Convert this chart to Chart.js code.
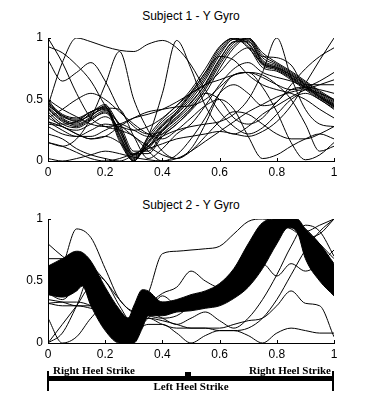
<!DOCTYPE html>
<html lang="en">
<head>
<meta charset="UTF-8">
<script src="https://cdn.jsdelivr.net/npm/chart.js"></script>
<title>Y Gyro</title>
<style>
  body { margin: 0; background: #fff; width: 369px; height: 394px; position: relative; overflow: hidden; }
  canvas { position: absolute; left: 0; }
  .title { position: absolute; left: 48px; width: 286px; text-align: center; font: 12px "Liberation Sans", Arial, sans-serif; color: #000; }
  .blk { position: absolute; background: #000; }
  .lab { position: absolute; font: bold 11px "Liberation Serif", "Times New Roman", serif; color: #000; white-space: nowrap; line-height: 11px; }
</style>
</head>
<body>
<div class="title" style="top:9px">Subject 1 - Y Gyro</div>
<canvas id="chart1" width="369" height="190" style="top:0"></canvas>
<div class="title" style="top:198px">Subject 2 - Y Gyro</div>
<canvas id="chart2" width="369" height="175" style="top:190px"></canvas>

<div class="blk" style="left:47px;top:376px;width:287px;height:5px"></div>
<div class="blk" style="left:47px;top:371px;width:2px;height:20px"></div>
<div class="blk" style="left:332px;top:371px;width:2px;height:20px"></div>
<div class="blk" style="left:185px;top:372px;width:6px;height:4px"></div>
<div class="lab" style="left:53px;top:365px">Right Heel Strike</div>
<div class="lab" style="right:38px;top:365px">Right Heel Strike</div>
<div class="lab" style="left:91px;width:200px;text-align:center;top:381px">Left Heel Strike</div>

<script>
// normalised gait cycle, sampled every 0.05
const X = [0, 0.05, 0.1, 0.15, 0.2, 0.25, 0.3, 0.35, 0.4, 0.45, 0.5,
           0.55, 0.6, 0.65, 0.7, 0.75, 0.8, 0.85, 0.9, 0.95, 1];
const xTicks = [0, 0.2, 0.4, 0.6, 0.8, 1];
const yTicks = [0, 0.5, 1];

// Subject 1: main bundle of strides
const s1Bundle = [
  [0.45,0.37,0.32,0.38,0.42,0.22,0.02,0.14,0.28,0.38,0.50,0.66,0.86,0.99,0.98,0.80,0.76,0.69,0.61,0.53,0.46],
  [0.43,0.33,0.30,0.36,0.45,0.28,0.05,0.10,0.24,0.34,0.45,0.60,0.80,0.96,1.00,0.84,0.78,0.71,0.63,0.55,0.48],
  [0.48,0.38,0.35,0.40,0.44,0.18,0.00,0.16,0.30,0.40,0.54,0.70,0.90,1.00,0.95,0.78,0.74,0.67,0.59,0.51,0.44],
  [0.40,0.30,0.27,0.33,0.40,0.25,0.03,0.12,0.26,0.36,0.47,0.63,0.83,0.97,0.99,0.82,0.77,0.70,0.62,0.54,0.47],
  [0.50,0.35,0.31,0.39,0.46,0.20,0.00,0.18,0.32,0.42,0.56,0.72,0.92,1.00,0.93,0.76,0.73,0.66,0.58,0.50,0.43],
  [0.44,0.34,0.29,0.35,0.41,0.30,0.08,0.08,0.22,0.32,0.43,0.58,0.78,0.94,1.00,0.86,0.79,0.72,0.64,0.56,0.49],
  [0.38,0.28,0.25,0.30,0.36,0.26,0.06,0.06,0.20,0.30,0.41,0.55,0.75,0.92,1.00,0.88,0.80,0.73,0.65,0.57,0.50],
  [0.46,0.36,0.33,0.37,0.43,0.16,0.00,0.20,0.34,0.45,0.58,0.75,0.93,1.00,0.92,0.79,0.75,0.68,0.60,0.52,0.45],
  [0.42,0.32,0.28,0.34,0.39,0.24,0.04,0.11,0.25,0.35,0.48,0.62,0.82,0.97,0.97,0.81,0.76,0.70,0.62,0.53,0.46],
  [0.47,0.37,0.34,0.40,0.44,0.21,0.01,0.15,0.29,0.39,0.52,0.68,0.88,0.99,0.96,0.79,0.75,0.68,0.60,0.52,0.45]
];
// Subject 1: odd strides
const s1Odd = [
  [0.45,0.80,1.00,0.97,0.93,0.90,0.89,0.95,0.98,0.92,0.78,0.58,0.40,0.28,0.22,0.27,0.38,0.50,0.55,0.50,0.42],
  [1.00,0.80,0.55,0.35,0.28,0.25,0.20,0.08,0.00,0.05,0.18,0.35,0.55,0.62,0.55,0.45,0.48,0.62,0.75,0.85,0.92],
  [0.93,0.88,0.78,0.65,0.45,0.30,0.20,0.12,0.05,0.02,0.08,0.20,0.32,0.40,0.38,0.30,0.22,0.18,0.18,0.22,0.28],
  [0.15,0.12,0.18,0.35,0.62,0.89,0.50,0.25,0.08,0.02,0.10,0.30,0.55,0.70,0.72,0.68,0.62,0.58,0.60,0.65,0.72],
  [0.32,0.28,0.22,0.18,0.20,0.15,0.05,0.20,0.55,0.98,0.75,0.45,0.28,0.22,0.28,0.38,0.45,0.52,0.58,0.62,0.66],
  [0.22,0.18,0.10,0.05,0.02,0.00,0.05,0.12,0.20,0.25,0.28,0.30,0.32,0.38,0.50,0.72,1.00,0.68,0.42,0.30,0.28],
  [0.15,0.12,0.07,0.02,0.00,0.02,0.06,0.10,0.14,0.18,0.20,0.22,0.24,0.22,0.20,0.24,0.32,0.45,0.63,0.82,1.00],
  [0.30,0.28,0.22,0.18,0.20,0.28,0.35,0.40,0.42,0.44,0.45,0.50,0.60,0.70,0.72,0.70,0.62,0.50,0.30,0.08,0.12],
  [0.35,0.42,0.50,0.55,0.50,0.40,0.30,0.22,0.18,0.25,0.35,0.45,0.50,0.42,0.20,0.02,0.05,0.12,0.18,0.22,0.18],
  [0.28,0.22,0.20,0.25,0.30,0.28,0.25,0.28,0.35,0.45,0.55,0.62,0.66,0.70,0.72,0.60,0.40,0.15,0.01,0.05,0.15],
  [0.50,0.42,0.36,0.30,0.28,0.30,0.35,0.38,0.42,0.48,0.55,0.62,0.72,0.85,0.92,0.85,0.84,0.78,0.62,0.62,0.62],
  [0.02,0.00,0.02,0.05,0.08,0.06,0.03,0.01,0.00,0.02,0.08,0.16,0.24,0.32,0.40,0.46,0.52,0.56,0.58,0.55,0.50],
  [0.32,0.25,0.20,0.20,0.25,0.30,0.25,0.20,0.22,0.30,0.42,0.55,0.50,0.35,0.30,0.35,0.48,0.58,0.60,0.58,0.55],
  [0.82,0.65,0.72,0.80,0.65,0.42,0.28,0.22,0.25,0.40,0.55,0.72,0.85,0.82,0.70,0.62,0.58,0.55,0.50,0.42,0.35],
  [0.35,0.30,0.32,0.40,0.43,0.42,0.20,0.02,0.10,0.22,0.30,0.45,0.62,0.75,0.80,0.72,0.68,0.65,0.60,0.52,0.44]
];

// Subject 2: envelope of the dense stride bundle
const bandX     = [0, 0.05, 0.1, 0.12, 0.15, 0.2, 0.25, 0.28, 0.3, 0.33, 0.35, 0.4, 0.45, 0.5, 0.55, 0.6, 0.65, 0.7, 0.75, 0.8, 0.84, 0.87, 0.9, 0.95, 1];
const bandUpper = [0.62,0.68,0.74,0.73,0.66,0.45,0.27,0.20,0.30,0.43,0.42,0.33,0.35,0.39,0.42,0.48,0.60,0.80,0.97,1.00,1.00,1.00,0.92,0.80,0.64];
const bandLower = [0.39,0.37,0.42,0.46,0.30,0.10,0.00,0.00,0.00,0.12,0.22,0.22,0.25,0.26,0.28,0.30,0.36,0.45,0.60,0.80,0.93,0.90,0.68,0.50,0.38];
// Subject 2: odd strides
const s2Odd = [
  [0.50,0.62,0.92,0.85,0.60,0.35,0.25,0.22,0.20,0.22,0.30,0.38,0.45,0.55,0.70,0.88,0.98,0.95,0.80,0.65,0.55],
  [0.80,0.70,0.62,0.55,0.40,0.20,0.10,0.20,0.30,0.28,0.30,0.33,0.40,0.50,0.65,0.85,0.98,0.95,0.85,0.72,0.60],
  [0.55,0.60,0.65,0.62,0.50,0.35,0.25,0.40,0.72,0.74,0.75,0.76,0.78,0.88,0.98,1.00,0.98,0.95,0.90,0.95,1.00],
  [0.35,0.33,0.30,0.30,0.20,0.10,0.12,0.30,0.40,0.45,0.58,0.50,0.45,0.55,0.68,0.82,0.94,0.98,0.92,0.80,0.68],
  [0.20,0.00,0.05,0.20,0.30,0.20,0.10,0.15,0.15,0.08,0.00,0.06,0.10,0.10,0.12,0.20,0.35,0.55,0.75,0.90,1.00],
  [0.32,0.33,0.33,0.30,0.22,0.15,0.15,0.20,0.15,0.12,0.12,0.12,0.10,0.10,0.06,0.00,0.08,0.12,0.10,0.08,0.08],
  [0.00,0.15,0.30,0.45,0.35,0.25,0.15,0.20,0.18,0.15,0.12,0.12,0.12,0.15,0.18,0.20,0.30,0.42,0.32,0.30,0.05],
  [0.68,0.68,0.60,0.50,0.35,0.20,0.20,0.30,0.32,0.30,0.30,0.32,0.36,0.42,0.55,0.64,0.54,0.64,0.58,0.64,0.75],
  [0.50,0.55,0.60,0.55,0.40,0.25,0.15,0.30,0.33,0.30,0.32,0.35,0.40,0.48,0.62,0.82,0.95,0.92,0.85,0.88,1.00],
  [0.32,0.30,0.30,0.28,0.25,0.20,0.20,0.25,0.28,0.28,0.30,0.30,0.32,0.38,0.50,0.70,0.90,0.96,0.88,0.70,0.52],
  [0.00,0.08,0.30,0.55,0.50,0.30,0.15,0.25,0.38,0.30,0.28,0.30,0.34,0.40,0.52,0.72,0.90,0.98,0.90,0.70,0.48],
  [0.40,0.35,0.45,0.50,0.40,0.25,0.18,0.25,0.20,0.15,0.20,0.25,0.18,0.12,0.20,0.35,0.55,0.78,0.95,0.90,0.70]
];

function pts(xs, ys) {
  return xs.map((x, i) => ({ x: x, y: ys[i] }));
}

function line(ys, xs) {
  return {
    data: pts(xs || X, ys),
    borderColor: '#000',
    borderWidth: 1,
    pointRadius: 0,
    fill: false,
    cubicInterpolationMode: 'monotone'
  };
}

// matlab style ticks pointing into the plot
const inTicks = {
  id: 'inTicks',
  afterDraw(chart) {
    const c = chart.ctx, a = chart.chartArea;
    c.save();
    c.strokeStyle = '#000';
    c.lineWidth = 1;
    c.beginPath();
    xTicks.forEach(v => {
      const px = Math.round(chart.scales.x.getPixelForValue(v)) + 0.5;
      c.moveTo(px, a.bottom); c.lineTo(px, a.bottom - 3);
    });
    yTicks.forEach(v => {
      const py = Math.round(chart.scales.y.getPixelForValue(v)) + 0.5;
      c.moveTo(a.left, py); c.lineTo(a.left + 3, py);
    });
    c.stroke();
    c.restore();
  }
};

function makeOptions(padTop, xHeight) {
  const font = { family: '"Liberation Sans", Arial, sans-serif', size: 12 };
  return {
    responsive: false,
    animation: false,
    layout: { padding: { top: padTop, right: 35, left: 0, bottom: 0 } },
    plugins: { legend: { display: false }, tooltip: { enabled: false } },
    scales: {
      x: {
        type: 'linear', min: 0, max: 1,
        afterBuildTicks: s => { s.ticks = xTicks.map(v => ({ value: v })); },
        afterFit: s => { s.height = xHeight; },
        ticks: { color: '#000', font: font, padding: 4, maxRotation: 0, callback: v => String(v) },
        grid: { display: false, drawTicks: false },
        border: { display: true, color: '#000', width: 1 }
      },
      y: {
        min: 0, max: 1,
        afterBuildTicks: s => { s.ticks = yTicks.map(v => ({ value: v })); },
        afterFit: s => { s.width = 48; },
        ticks: { color: '#000', font: font, padding: 5, callback: v => String(v) },
        grid: { display: false, drawTicks: false },
        border: { display: true, color: '#000', width: 1 }
      }
    }
  };
}

const chart1 = new Chart(document.getElementById('chart1'), {
  type: 'line',
  data: { datasets: s1Odd.concat(s1Bundle).map(ys => line(ys)) },
  options: makeOptions(38, 29),
  plugins: [inTicks]
});

const lowerSet = line(bandLower, bandX);
const upperSet = line(bandUpper, bandX);
upperSet.fill = '-1';
upperSet.backgroundColor = '#000';

const chart2 = new Chart(document.getElementById('chart2'), {
  type: 'line',
  data: { datasets: [lowerSet, upperSet].concat(s2Odd.map(ys => line(ys))) },
  options: makeOptions(29, 22),
  plugins: [inTicks]
});
</script>
</body>
</html>
